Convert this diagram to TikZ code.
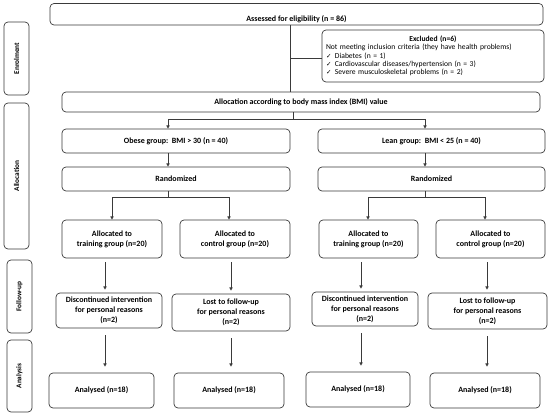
\documentclass[tikz,border=0pt]{standalone}
\usepackage{fontspec}
\setmainfont{Carlito}
\newfontfamily\dejavu{DejaVu Sans}
\usetikzlibrary{arrows.meta,calc}
\definecolor{ln}{HTML}{3A3A3A}
\newcommand{\chk}{{\dejavu\fontsize{6.5}{7}\selectfont ✓}\hspace{3.5pt}}
\newcommand{\bx}[6]{\node[box, minimum width={(#4-#2)*1pt}, minimum height={(#5-#3)*1pt}] (#1) at ({(#2+#4)/2},{(#3+#5)/2}) {#6};}
\begin{document}
\begin{tikzpicture}[x=1pt,y=-1pt,
  box/.style={draw=ln, line width=0.7pt, rounded corners=4pt, inner sep=0pt, align=center,
     font=\fontsize{8}{9.8}\selectfont\bfseries, text=black},
  mid/.style={font=\fontsize{7.5}{9}\selectfont\bfseries},
  side/.style={box},
  sidetext/.style={rotate=90, font=\fontsize{7.3}{8}\selectfont\bfseries},
  con/.style={draw=ln, line width=0.7pt},
  arr/.style={con, -{Triangle[length=3.2pt,width=3.2pt]}}]
\useasboundingbox (0,0) rectangle (550,417);
% side labels
\node[side, minimum width=25pt, minimum height=73pt] (enr) at (16.5,58.5) {};
\node[sidetext] (enrt) at (enr.center) {Enrolment};
\node[side, minimum width=25pt, minimum height=146pt] (all) at (16.5,176) {};
\node[sidetext] (allt) at (all.center) {Allocation};
\node[side, minimum width=25pt, minimum height=73pt] (fol) at (19.5,296.5) {};
\node[sidetext] (folt) at (fol.center) {Follow-up};
\node[side, minimum width=25pt, minimum height=72pt] (ana) at (19.5,376) {};
\node[sidetext] (anat) at (ana.center) {Analysis};
% top
\node[box, minimum width=493pt, minimum height=21.5pt, text height=14pt, text depth=0pt] (ass) at (296.5,14.25) {Assessed for eligibility (n = 86)};
\node[box, minimum width=222pt, minimum height=52pt, text width=214pt, align=left,
  font=\fontsize{7.6}{8.3}\selectfont] (exc) at (433,56)
  {\makebox[\linewidth][c]{\bfseries Excluded (n=6)}\\
   Not meeting inclusion criteria (they have health problems)\\
   \chk Diabetes (n = 1)\\
   \chk Cardiovascular diseases/hypertension (n = 3)\\
   \chk Severe musculoskeletal problems (n = 2)};
\begin{scope}[every node/.append style={mid}]
\bx{alc}{62}{92}{540}{112}{Allocation according to body mass index (BMI) value}
\bx{ob}{62}{129}{290}{153}{Obese group:\ \ BMI > 30 (n = 40)}
\bx{le}{318}{129}{545}{153}{Lean group:\ \ BMI < 25 (n = 40)}
\bx{r1}{62}{167}{290}{191}{Randomized}
\bx{r2}{318}{167}{545}{191}{Randomized}
\end{scope}
\bx{a1}{62}{220}{162}{258}{Allocated to\\training group (n=20)}
\bx{a2}{180}{220}{290}{258}{Allocated to\\control group (n=20)}
\bx{a3}{319}{220}{418}{258}{Allocated to\\training group (n=20)}
\bx{a4}{436}{220}{545}{258}{Allocated to\\control group (n=20)}
\bx{f1}{56}{293}{162}{328}{Discontinued intervention\\for personal reasons\\(n=2)}
\bx{f2}{172}{294}{290}{331}{Lost to follow-up\\for personal reasons\\(n=2)}
\bx{f3}{312}{292}{418}{326}{Discontinued intervention\\for personal reasons\\(n=2)}
\bx{f4}{428}{293}{547}{329}{Lost to follow-up\\for personal reasons\\(n=2)}
\bx{n1}{49}{373}{154}{408}{Analysed (n=18)}
\bx{n2}{174}{373}{284}{408}{Analysed (n=18)}
\bx{n3}{306}{372}{410}{407}{Analysed (n=18)}
\bx{n4}{430}{373}{540}{408}{Analysed (n=18)}
% connectors
\coordinate (x1) at (290,58);
\draw[con] (ass.south -| x1) -- (alc.north -| x1);
\draw[con] (x1) -- (exc.west |- x1);
\coordinate (s1) at (293,119);
\draw[con] (alc.south -| s1) -- (s1);
\coordinate (cL) at (168,0);
\coordinate (cR) at (425,0);
\draw[arr] (s1) -| (ob.north -| cL);
\draw[arr] (s1) -| (le.north -| cR);
\draw[arr] (ob.south -| cL) -- (r1.north -| cL);
\draw[arr] (le.south -| cR) -- (r2.north -| cR);
\coordinate (s2) at (168,197);
\coordinate (s3) at (425,197);
\draw[con] (r1.south -| s2) -- (s2);
\draw[con] (r2.south -| s3) -- (s3);
\coordinate (k1) at (112,0);
\coordinate (k2) at (229,0);
\coordinate (k3) at (368,0);
\coordinate (k4) at (485,0);
\draw[arr] (s2) -| (a1.north -| k1);
\draw[arr] (s2) -| (a2.north -| k2);
\draw[arr] (s3) -| (a3.north -| k3);
\draw[arr] (s3) -| (a4.north -| k4);
\coordinate (v1) at (105,0);
\coordinate (v2) at (231,0);
\coordinate (v3) at (361,0);
\coordinate (v4) at (487,0);
\foreach \a/\b/\v in {a1/f1/v1, a2/f2/v2, a3/f3/v3, a4/f4/v4}{
  \draw[arr] ($(\a.south -| \v)+(0,4)$) -- ($(\b.north -| \v)+(0,-3)$);
}
\foreach \a/\b/\v in {f1/n1/v1, f2/n2/v2, f3/n3/v3, f4/n4/v4}{
  \draw[arr] ($(\a.south -| \v)+(0,7)$) -- ($(\b.north -| \v)+(0,-6)$);
}
\end{tikzpicture}
\end{document}
